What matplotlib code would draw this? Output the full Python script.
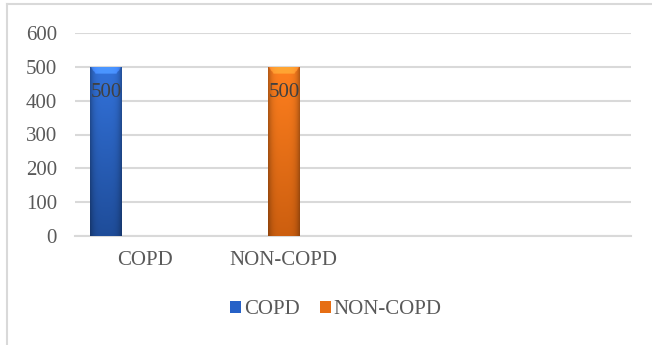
import numpy as np
import matplotlib
matplotlib.use("Agg")
import matplotlib.pyplot as plt
from matplotlib.patches import Patch
from matplotlib.lines import Line2D

categories = ["COPD", "NON-COPD", "", ""]
series_names = ["COPD", "NON-COPD"]
series_category = [0, 1]
series_values = [500, 500]
y_ticks = [0, 100, 200, 300, 400, 500, 600]

plt.rcParams['font.family'] = ['Liberation Serif', 'DejaVu Serif']
TXT = '#595959'
GRID = '#d9d9d9'
FS = 15

fig = plt.figure(figsize=(6.52, 3.45), dpi=100)
ax = fig.add_axes([75/652, 1-236/345, (631-75)/652, (236-33)/345])

offsets = [-0.277, 0.004]
width = 0.23
top_cols = [np.array([0.20, 0.45, 0.86]), np.array([1.00, 0.50, 0.12])]
bot_cols = [np.array([0.12, 0.30, 0.60]), np.array([0.80, 0.37, 0.06])]

for i, (cat, val) in enumerate(zip(series_category, series_values)):
    x = cat + offsets[i]
    bars = ax.bar([x], [val], width=width, color='none', edgecolor='none', zorder=3)
    rect = bars[0]
    H, W = 200, 60
    v = np.linspace(0, 1, H)[:, None]
    u = np.linspace(0, 1, W)[None, :]
    base = top_cols[i][None, None, :] * (1 - v[..., None]) + bot_cols[i][None, None, :] * v[..., None]
    edge = 1 - 0.30 * np.abs(2*u - 1)**4
    img = (base * edge[..., None]).copy()
    vv = np.broadcast_to(v, (H, W))
    uu = np.broadcast_to(u, (H, W))
    bev_h = 0.045
    bevel_mask = (vv < bev_h) & (vv < bev_h * np.minimum(uu, 1-uu) / 0.18)
    img[bevel_mask] = np.clip(img[bevel_mask] * 1.18 + 0.06, 0, 1)
    im = ax.imshow(np.clip(img, 0, 1), extent=(x - width/2, x + width/2, 0, val),
                   aspect='auto', zorder=3, interpolation='bilinear')
    im.set_clip_path(rect)
    ax.text(x, val - 75, f"{val}", ha='center', va='center', fontsize=FS,
            color='#404040', zorder=4)

ax.set_aspect('auto')
ax.set_xlim(-0.5, len(categories)-0.5)
ax.set_ylim(0, 600)
ax.set_yticks(y_ticks)
ax.set_yticklabels([str(t) for t in y_ticks])
ax.set_xticks(range(len(categories)))
ax.set_xticklabels(categories)
ax.tick_params(axis='y', length=0, pad=13, labelsize=FS, labelcolor=TXT)
ax.tick_params(axis='x', length=0, pad=11, labelsize=FS, labelcolor=TXT)
ax.grid(axis='y', color=GRID, linewidth=1.5, zorder=0)
ax.set_axisbelow(True)
for s in ['top', 'right', 'left']:
    ax.spines[s].set_visible(False)
ax.spines['bottom'].set_color(GRID)
ax.spines['bottom'].set_linewidth(1.5)

handles = [Patch(facecolor=(0.15, 0.38, 0.78), edgecolor='none'),
           Patch(facecolor=(0.90, 0.43, 0.08), edgecolor='none')]
fig.legend(handles, series_names, loc='center', bbox_to_anchor=(336/652, 1-310/345),
           ncol=2, frameon=False, fontsize=FS, labelcolor=TXT,
           handlelength=0.5, handleheight=0.5, handletextpad=0.15, columnspacing=1.0)

fig.add_artist(Line2D([7/652, 1], [1-3.5/345, 1-3.5/345], transform=fig.transFigure, color=GRID, linewidth=1.5))
fig.add_artist(Line2D([7/652, 7/652], [0, 1-3.5/345], transform=fig.transFigure, color=GRID, linewidth=1.5))

fig.savefig('out.png', dpi=100)
